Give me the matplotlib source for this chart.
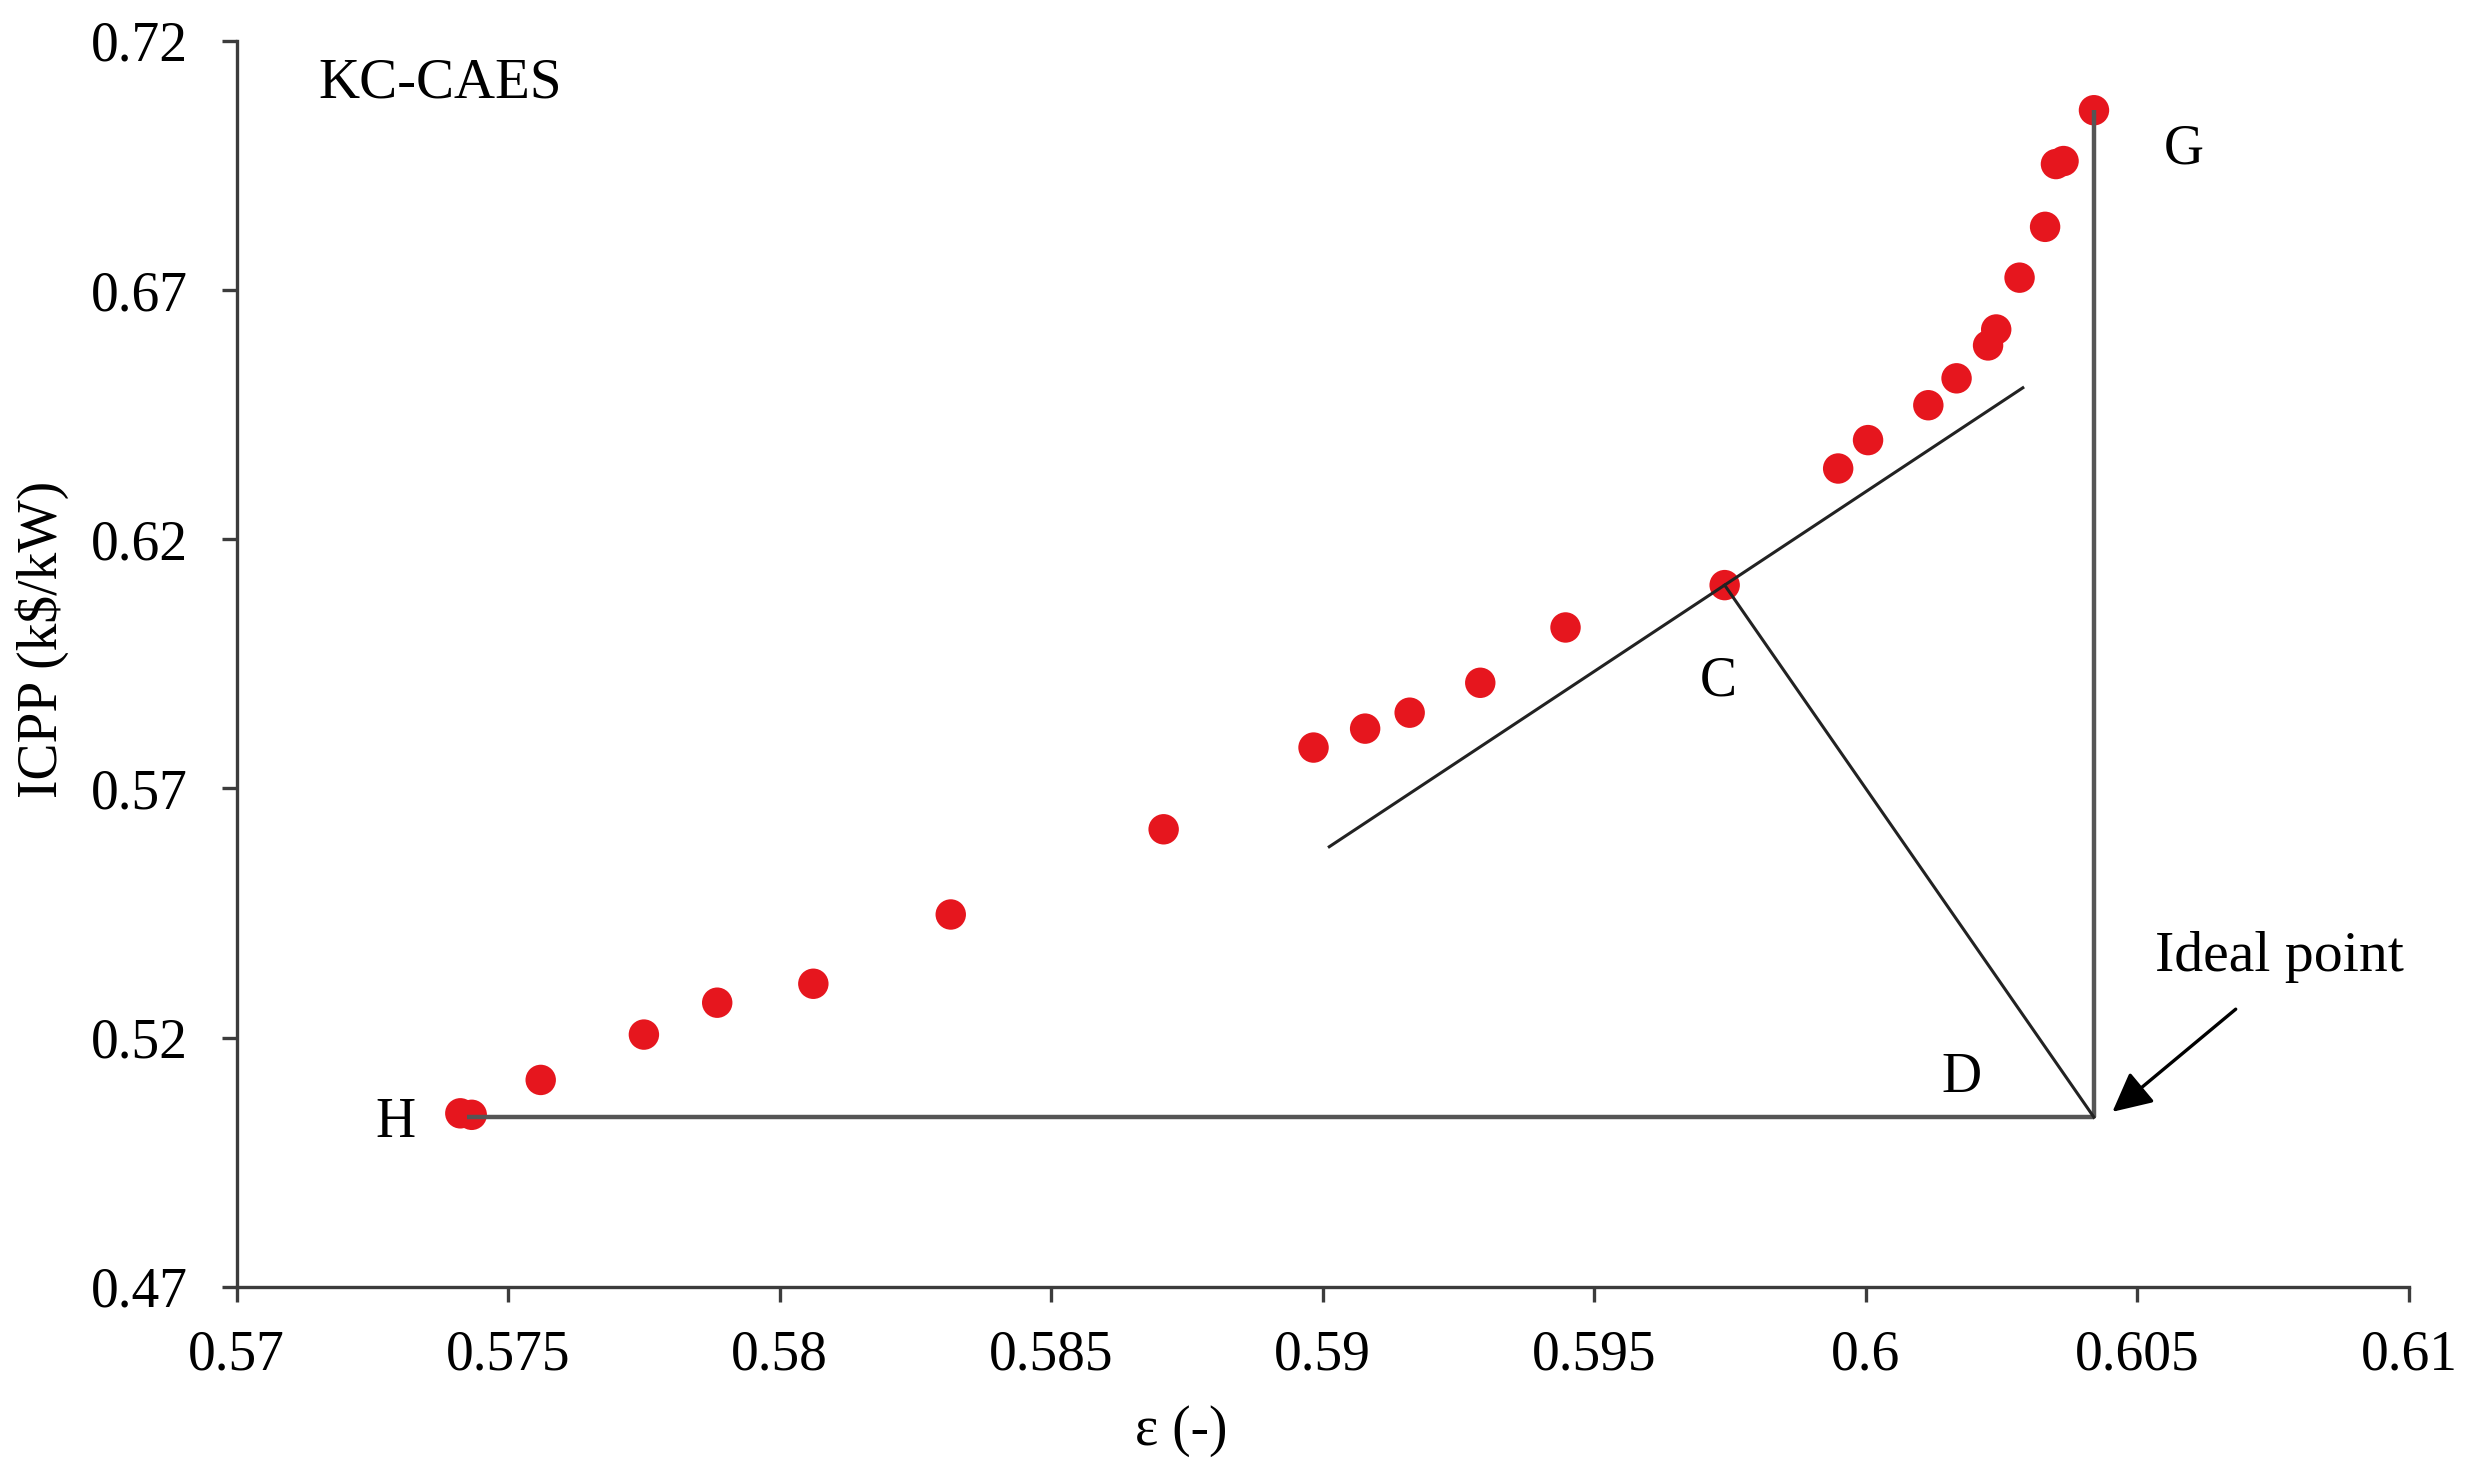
import matplotlib
matplotlib.use("Agg")
import matplotlib.pyplot as plt

plt.rcParams['font.family'] = ['Liberation Serif', 'DejaVu Serif']
plt.rcParams['mathtext.fontset'] = 'stix'

# Pareto front data (epsilon, ICPP)
eps = [0.57412, 0.57433, 0.5756, 0.5775, 0.57885, 0.58062, 0.58315, 0.58707,
       0.58983, 0.59078, 0.5916, 0.5929, 0.59447, 0.5974, 0.59949, 0.60004,
       0.60115, 0.60167, 0.60225, 0.6024, 0.60283, 0.6033, 0.6035, 0.60364, 0.6042]
icpp = [0.5048, 0.5045, 0.5115, 0.5206, 0.527, 0.5308, 0.5447, 0.5618,
        0.5782, 0.582, 0.5852, 0.5912, 0.6023, 0.6108, 0.6342, 0.6399,
        0.6469, 0.6523, 0.6589, 0.6621, 0.6725, 0.6827, 0.6953, 0.6959, 0.7061]

# annotation geometry
tangent_x = [0.59012, 0.60289]
tangent_y = [0.5583, 0.6504]
point_C = (0.5974, 0.6108)
ideal = (0.6042, 0.5040)
point_H_x = 0.57425
point_G_y = 0.7061

xticks = [0.57, 0.575, 0.58, 0.585, 0.59, 0.595, 0.6, 0.605, 0.61]
xticklabels = ["0.57", "0.575", "0.58", "0.585", "0.59", "0.595", "0.6", "0.605", "0.61"]
yticks = [0.47, 0.52, 0.57, 0.62, 0.67, 0.72]
yticklabels = ["0.47", "0.52", "0.57", "0.62", "0.67", "0.72"]

fig = plt.figure(figsize=(12.36, 7.395), dpi=200)
ax = fig.add_axes([0.0957, 0.130, 0.8788, 0.8423])

fs = 20
line_col = '#3c3c3c'

# horizontal line H -> ideal
ax.plot([point_H_x, ideal[0]], [ideal[1], ideal[1]], color='#555555', lw=1.6, zorder=3,
        solid_capstyle='butt')
# vertical line ideal -> G
ax.plot([ideal[0], ideal[0]], [ideal[1], point_G_y], color='#555555', lw=1.6, zorder=3,
        solid_capstyle='butt')
# tangent line
ax.plot(tangent_x, tangent_y, color='#222222', lw=1.1, zorder=3)
# C -> ideal line
ax.plot([point_C[0], ideal[0]], [point_C[1], ideal[1]], color='#222222', lw=1.1, zorder=3)

ax.scatter(eps, icpp, s=120, color='#E6161E', edgecolors='none', zorder=2)

# arrow
ax.annotate('', xy=(0.60454, 0.5051), xytext=(0.60681, 0.5257),
            arrowprops=dict(arrowstyle='-|>', color='black', lw=1.2,
                            mutation_scale=30, shrinkA=0, shrinkB=0))

ax.text(0.57151, 0.7115, "KC-CAES", fontsize=20.5, ha='left', va='center')
ax.text(0.60585, 0.6982, "G", fontsize=fs, ha='center', va='center')
ax.text(0.59729, 0.5915, "C", fontsize=fs, ha='center', va='center')
ax.text(0.60176, 0.5118, "D", fontsize=fs, ha='center', va='center')
ax.text(0.57293, 0.5029, "H", fontsize=fs, ha='center', va='center')
ax.text(0.60762, 0.5361, "Ideal point", fontsize=20.8, ha='center', va='center')

ax.set_xlim(0.57, 0.61)
ax.set_ylim(0.47, 0.72)
ax.set_xticks(xticks)
ax.set_xticklabels(xticklabels)
ax.set_yticks(yticks)
ax.set_yticklabels(yticklabels)

for s in ['top', 'right']:
    ax.spines[s].set_visible(False)
for s in ['left', 'bottom']:
    ax.spines[s].set_color(line_col)
    ax.spines[s].set_linewidth(1.2)

ax.tick_params(axis='both', direction='out', length=5.5, width=1.2, color=line_col,
               labelsize=fs, labelcolor='black')
ax.tick_params(axis='x', pad=10)
ax.tick_params(axis='y', pad=12)

ax.set_xlabel("ε (-)", fontsize=fs)
ax.set_ylabel("ICPP (k\\$/kW)", fontsize=fs)
ax.xaxis.set_label_coords(0.435, -0.095)
ax.yaxis.set_label_coords(-0.077, 0.52)

fig.savefig("out.png", dpi=200, facecolor='white')
